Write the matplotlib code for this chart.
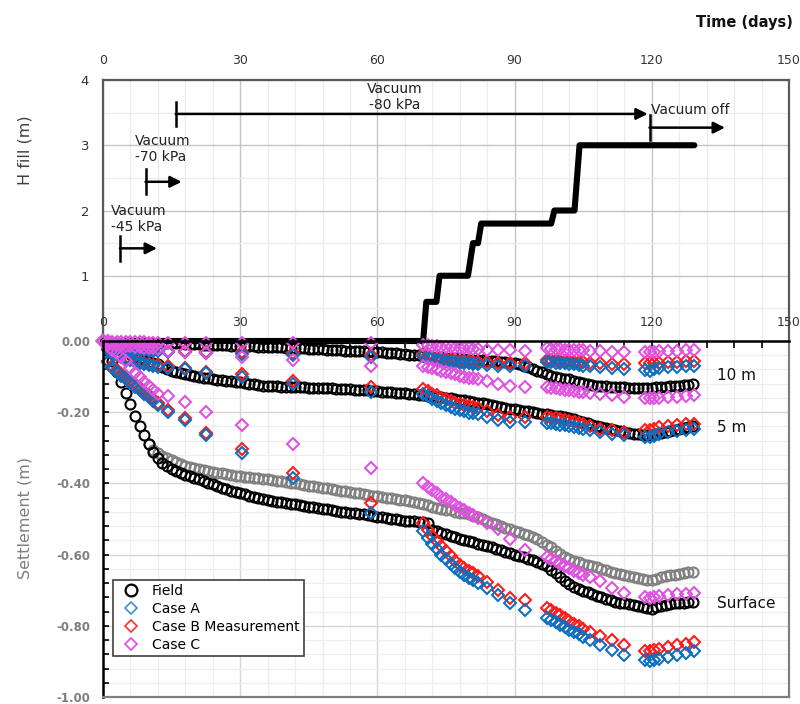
import matplotlib
matplotlib.use("Agg")
import matplotlib.pyplot as plt
from matplotlib.ticker import MultipleLocator, FixedLocator, FormatStrFormatter
from matplotlib.lines import Line2D

plt.rcParams["font.family"] = ["DejaVu Sans"]
plt.rcParams["axes.unicode_minus"] = False

# ---- fill height (top panel) ----
H_DAYS = [0, 70.0, 70.7, 72.9, 73.6, 79.8, 80.9, 82.0, 82.7, 98.0, 98.7, 103.1, 104.2, 129.3]
H_FILL = [0, 0, 0.6, 0.6, 1.0, 1.0, 1.5, 1.5, 1.8, 1.8, 2.0, 2.0, 3.0, 3.0]

# vacuum stages
VAC_LABELS = ["Vacuum\n-45 kPa", "Vacuum\n-70 kPa", "Vacuum\n-80 kPa", "Vacuum off"]
VAC_START = [3.7, 9.3, 15.9, 119.5]
VAC_END = [11.8, 17.2, 119.1, 136.0]
VAC_LEVEL = [1.42, 2.44, 3.48, 3.27]

# ---- field measurements (daily) ----
FIELD_DAYS = list(range(0, 130))
FIELD_SURF = [
    0, -0.025, -0.055, -0.087, -0.115, -0.145, -0.178, -0.21, -0.238, -0.265,
    -0.29, -0.312, -0.328, -0.342, -0.352, -0.36, -0.366, -0.371, -0.376, -0.38,
    -0.384, -0.388, -0.393, -0.398, -0.403, -0.408, -0.412, -0.416, -0.42, -0.424,
    -0.428, -0.431, -0.434, -0.437, -0.44, -0.443, -0.446, -0.449, -0.451, -0.453,
    -0.455, -0.457, -0.459, -0.461, -0.463, -0.465, -0.467, -0.469, -0.471, -0.473,
    -0.475, -0.477, -0.479, -0.48, -0.482, -0.484, -0.486, -0.487, -0.489, -0.491,
    -0.493, -0.495, -0.497, -0.499, -0.501, -0.503, -0.505, -0.506, -0.507, -0.508,
    -0.509, -0.512, -0.53, -0.535, -0.539, -0.543, -0.547, -0.551, -0.555, -0.559,
    -0.562, -0.566, -0.569, -0.573, -0.576, -0.58, -0.584, -0.588, -0.592, -0.596,
    -0.6, -0.604, -0.608, -0.612, -0.616, -0.621, -0.627, -0.633, -0.642, -0.652,
    -0.662, -0.673, -0.682, -0.69, -0.696, -0.701, -0.706, -0.71, -0.715, -0.72,
    -0.724, -0.728, -0.732, -0.735, -0.737, -0.74, -0.742, -0.745, -0.748, -0.751,
    -0.752, -0.748, -0.744, -0.741, -0.739, -0.737, -0.736, -0.735, -0.734, -0.733,
]
FIELD_5M = [
    0, -0.006, -0.012, -0.018, -0.024, -0.03, -0.036, -0.042, -0.048, -0.053,
    -0.058, -0.062, -0.066, -0.072, -0.078, -0.083, -0.087, -0.09, -0.093, -0.096,
    -0.099, -0.101, -0.103, -0.105, -0.107, -0.109, -0.11, -0.112, -0.113, -0.115,
    -0.116, -0.118, -0.12, -0.122, -0.124, -0.125, -0.126, -0.127, -0.127, -0.128,
    -0.128, -0.129, -0.129, -0.13, -0.13, -0.131, -0.131, -0.132, -0.132, -0.133,
    -0.133, -0.134, -0.134, -0.135, -0.136, -0.137, -0.137, -0.138, -0.139, -0.14,
    -0.141, -0.142, -0.143, -0.144, -0.145, -0.146, -0.147, -0.148, -0.15, -0.151,
    -0.153, -0.154, -0.155, -0.156, -0.157, -0.159, -0.161, -0.163, -0.165, -0.167,
    -0.169, -0.171, -0.173, -0.175, -0.177, -0.18, -0.183, -0.185, -0.188, -0.19,
    -0.192, -0.194, -0.196, -0.198, -0.2, -0.202, -0.204, -0.206, -0.208, -0.21,
    -0.212, -0.214, -0.217, -0.22, -0.224, -0.227, -0.231, -0.235, -0.239, -0.242,
    -0.245, -0.248, -0.251, -0.253, -0.256, -0.258, -0.26, -0.262, -0.264, -0.265,
    -0.265, -0.262, -0.259, -0.256, -0.253, -0.25, -0.247, -0.245, -0.242, -0.24,
]
FIELD_10M = [
    0, -0.001, -0.002, -0.002, -0.003, -0.003, -0.003, -0.004, -0.004, -0.004,
    -0.005, -0.005, -0.005, -0.006, -0.006, -0.006, -0.007, -0.007, -0.008, -0.008,
    -0.009, -0.009, -0.01, -0.01, -0.011, -0.011, -0.012, -0.012, -0.013, -0.013,
    -0.014, -0.014, -0.015, -0.015, -0.016, -0.016, -0.017, -0.017, -0.018, -0.018,
    -0.019, -0.02, -0.02, -0.021, -0.021, -0.022, -0.022, -0.023, -0.023, -0.024,
    -0.025, -0.025, -0.026, -0.027, -0.027, -0.028, -0.029, -0.029, -0.03, -0.031,
    -0.031, -0.032, -0.033, -0.034, -0.035, -0.036, -0.037, -0.038, -0.039, -0.04,
    -0.041, -0.042, -0.044, -0.045, -0.046, -0.047, -0.048, -0.049, -0.05, -0.051,
    -0.052, -0.053, -0.054, -0.054, -0.055, -0.056, -0.057, -0.058, -0.059, -0.061,
    -0.063, -0.066, -0.07, -0.074, -0.078, -0.083, -0.088, -0.094, -0.099, -0.102,
    -0.104, -0.106, -0.108, -0.112, -0.115, -0.118, -0.121, -0.123, -0.125, -0.126,
    -0.127, -0.128, -0.129, -0.13, -0.13, -0.131, -0.131, -0.131, -0.131, -0.131,
    -0.131, -0.13, -0.129, -0.128, -0.127, -0.126, -0.125, -0.124, -0.123, -0.122,
]
# second surface record (grey, not in legend)
GREY_DAYS = list(range(10, 130))
GREY_SURF = [
    -0.29, -0.305, -0.315, -0.322, -0.328, -0.334, -0.34, -0.345, -0.35, -0.354,
    -0.357, -0.36, -0.363, -0.366, -0.368, -0.37, -0.372, -0.374, -0.376, -0.378,
    -0.38, -0.381, -0.383, -0.384, -0.386, -0.387, -0.389, -0.39, -0.392, -0.394,
    -0.396, -0.398, -0.4, -0.402, -0.404, -0.406, -0.408, -0.41, -0.412, -0.414,
    -0.416, -0.418, -0.42, -0.422, -0.424, -0.426, -0.428, -0.43, -0.432, -0.434,
    -0.436, -0.438, -0.44, -0.442, -0.444, -0.446, -0.448, -0.45, -0.453, -0.456,
    -0.459, -0.462, -0.465, -0.468, -0.471, -0.474, -0.476, -0.479, -0.482, -0.484,
    -0.487, -0.491, -0.495, -0.5, -0.505, -0.51, -0.514, -0.519, -0.524, -0.529,
    -0.533, -0.537, -0.541, -0.545, -0.55, -0.557, -0.564, -0.572, -0.58, -0.589,
    -0.598, -0.606, -0.612, -0.617, -0.621, -0.625, -0.629, -0.632, -0.636, -0.64,
    -0.644, -0.648, -0.652, -0.655, -0.658, -0.661, -0.664, -0.666, -0.669, -0.671,
    -0.671, -0.668, -0.664, -0.661, -0.658, -0.656, -0.654, -0.652, -0.65, -0.648,
]

# ---- simulation output times ----
SIM_DAYS = [
    0, 1, 2, 3, 4, 5, 6, 7, 8, 9, 10, 11,
    12.1, 14.3, 17.9, 22.6, 30.3, 41.6, 58.7,
    70, 71, 72, 73, 74, 75, 76, 77, 78, 79, 80, 81, 82,
    84, 86.3, 88.9, 92.2,
    97, 98, 99, 100, 101, 102, 103, 104, 105,
    106.5, 108.6, 111.2, 114,
    118.5, 119.5, 120.5, 121.5,
    123.5, 125.5, 127.5, 129.2,
]
A_SURF = [
    0, -0.06, -0.075, -0.087, -0.098, -0.108, -0.118, -0.128, -0.138, -0.148, -0.158, -0.168,
    -0.18, -0.2, -0.222, -0.265, -0.315, -0.386, -0.482,
    -0.535, -0.553, -0.57, -0.585, -0.6, -0.613, -0.626, -0.637, -0.648, -0.657, -0.665, -0.672, -0.679,
    -0.695, -0.714, -0.736, -0.755,
    -0.778, -0.784, -0.79, -0.797, -0.804, -0.811, -0.818, -0.824, -0.831,
    -0.84, -0.853, -0.867, -0.881,
    -0.897, -0.9, -0.897, -0.894,
    -0.888, -0.882, -0.877, -0.872,
]
B_SURF = [
    0, -0.055, -0.069, -0.081, -0.092, -0.102, -0.112, -0.122, -0.132, -0.142, -0.152, -0.162,
    -0.175, -0.195, -0.217, -0.258, -0.302, -0.372, -0.455,
    -0.512, -0.53, -0.547, -0.562, -0.577, -0.591, -0.605, -0.617, -0.628, -0.638, -0.646, -0.653, -0.66,
    -0.678, -0.699, -0.722, -0.727,
    -0.75, -0.757, -0.764, -0.771, -0.778, -0.786, -0.794, -0.801, -0.808,
    -0.818, -0.83, -0.84, -0.853,
    -0.87, -0.872, -0.869, -0.866,
    -0.86, -0.855, -0.85, -0.846,
]
C_SURF = [
    0, -0.012, -0.025, -0.035, -0.045, -0.057, -0.075, -0.09, -0.102, -0.115, -0.127, -0.138,
    -0.148, -0.155, -0.171, -0.199, -0.237, -0.29, -0.358,
    -0.4, -0.41, -0.419, -0.428, -0.437, -0.445, -0.452, -0.46, -0.468, -0.476, -0.484, -0.49, -0.497,
    -0.51, -0.528, -0.556, -0.587,
    -0.606, -0.612, -0.618, -0.625, -0.632, -0.639, -0.645, -0.651, -0.656,
    -0.663, -0.675, -0.694, -0.707,
    -0.72, -0.722, -0.72, -0.717,
    -0.714, -0.712, -0.71, -0.708,
]
A_5M = [
    0, -0.025, -0.035, -0.04, -0.045, -0.05, -0.054, -0.058, -0.062, -0.065, -0.068, -0.07,
    -0.072, -0.075, -0.079, -0.091, -0.101, -0.12, -0.143,
    -0.148, -0.155, -0.162, -0.168, -0.174, -0.18, -0.185, -0.19, -0.195, -0.198, -0.201, -0.203, -0.205,
    -0.214, -0.223, -0.227, -0.228,
    -0.229, -0.231, -0.233, -0.235, -0.237, -0.239, -0.241, -0.243, -0.246,
    -0.251, -0.257, -0.26, -0.265,
    -0.269, -0.27, -0.266, -0.261,
    -0.256, -0.252, -0.249, -0.246,
]
B_5M = [
    0, -0.022, -0.032, -0.037, -0.042, -0.047, -0.051, -0.055, -0.059, -0.062, -0.065, -0.067,
    -0.068, -0.071, -0.075, -0.087, -0.092, -0.111, -0.129,
    -0.134, -0.141, -0.148, -0.153, -0.159, -0.164, -0.169, -0.173, -0.177, -0.18, -0.183, -0.185, -0.187,
    -0.197, -0.209, -0.213, -0.213,
    -0.213, -0.215, -0.217, -0.219, -0.222, -0.224, -0.227, -0.229, -0.232,
    -0.238, -0.246, -0.25, -0.255,
    -0.25, -0.249, -0.246, -0.242,
    -0.238, -0.235, -0.233, -0.232,
]
C_5M = [
    0, -0.005, -0.008, -0.01, -0.012, -0.013, -0.015, -0.016, -0.018, -0.019, -0.02, -0.021,
    -0.022, -0.027, -0.03, -0.033, -0.045, -0.054, -0.069,
    -0.069, -0.073, -0.076, -0.08, -0.083, -0.087, -0.091, -0.094, -0.097, -0.1, -0.103, -0.105, -0.107,
    -0.113, -0.12, -0.125, -0.129,
    -0.129, -0.131, -0.133, -0.135, -0.137, -0.139, -0.141, -0.142, -0.144,
    -0.146, -0.148, -0.153, -0.157,
    -0.16, -0.161, -0.16, -0.159,
    -0.157, -0.156, -0.154, -0.153,
]
A_10M = [
    0, -0.012, -0.016, -0.018, -0.02, -0.022, -0.023, -0.024, -0.025, -0.026, -0.027, -0.028,
    -0.028, -0.03, -0.031, -0.033, -0.036, -0.039, -0.045,
    -0.041, -0.045, -0.049, -0.052, -0.054, -0.056, -0.058, -0.06, -0.061, -0.062, -0.063, -0.064, -0.065,
    -0.067, -0.069, -0.07, -0.069,
    -0.059, -0.06, -0.061, -0.062, -0.063, -0.065, -0.066, -0.068, -0.069,
    -0.07, -0.073, -0.076, -0.078,
    -0.081, -0.083, -0.08, -0.077,
    -0.074, -0.072, -0.07, -0.069,
]
B_10M = [
    0, -0.01, -0.014, -0.016, -0.018, -0.019, -0.02, -0.021, -0.022, -0.023, -0.024, -0.025,
    -0.025, -0.027, -0.028, -0.03, -0.032, -0.035, -0.038,
    -0.037, -0.04, -0.044, -0.047, -0.049, -0.051, -0.053, -0.054, -0.055, -0.056, -0.057, -0.058, -0.059,
    -0.06, -0.061, -0.062, -0.062,
    -0.052, -0.053, -0.054, -0.055, -0.056, -0.057, -0.058, -0.059, -0.06,
    -0.061, -0.063, -0.064, -0.066,
    -0.062, -0.063, -0.062, -0.061,
    -0.059, -0.058, -0.056, -0.055,
]
C_10M = [
    0, -0.001, -0.002, -0.002, -0.003, -0.003, -0.003, -0.004, -0.004, -0.004, -0.005, -0.005,
    -0.005, -0.005, -0.005, -0.006, -0.006, -0.007, -0.007,
    -0.01, -0.012, -0.014, -0.015, -0.016, -0.017, -0.018, -0.019, -0.02, -0.021, -0.021, -0.022, -0.022,
    -0.024, -0.025, -0.026, -0.027,
    -0.021, -0.022, -0.022, -0.023, -0.024, -0.024, -0.025, -0.026, -0.026,
    -0.027, -0.029, -0.031, -0.032,
    -0.03, -0.031, -0.03, -0.029,
    -0.028, -0.027, -0.026, -0.025,
]

DEPTH_LABELS = ["10 m", "5 m", "Surface"]
DEPTH_LABEL_Y = [-0.097, -0.242, -0.738]

BLUE = "#0a6fc2"
RED = "#ff1a1a"
MAGENTA = "#e050e0"
GREY = "#808080"

W, H = 800, 704


def fx(x):
    return x / W


def fy(y):
    return 1 - y / H


fig = plt.figure(figsize=(8, 7.04), dpi=100)
ax_h = fig.add_axes([fx(103), fy(341), 686 / W, 261 / H])
ax_s = fig.add_axes([fx(103), fy(697), 686 / W, 356 / H])

# ---------- top panel: fill height ----------
ax_h.set_facecolor("none")
ax_h.set_xlim(0, 150)
ax_h.set_ylim(0, 4)
ax_h.xaxis.tick_top()
ax_h.xaxis.set_major_locator(MultipleLocator(30))
ax_h.xaxis.set_minor_locator(MultipleLocator(6))
ax_h.yaxis.set_major_locator(FixedLocator([1, 2, 3, 4]))
ax_h.yaxis.set_minor_locator(MultipleLocator(0.5))
ax_h.tick_params(which="both", length=0)
ax_h.tick_params(axis="x", pad=9, labelsize=9, labelcolor="#333333")
ax_h.tick_params(axis="y", pad=10, labelsize=9.5, labelcolor="#333333")
ax_h.grid(which="major", color="#c4c4c4", lw=1.0)
ax_h.grid(which="minor", color="#ececec", lw=0.9)
ax_h.set_axisbelow(True)
for side in ["top", "left", "right"]:
    ax_h.spines[side].set_color("#595959")
    ax_h.spines[side].set_linewidth(1.6)
ax_h.spines["bottom"].set_visible(False)

ax_h.plot(H_DAYS, H_FILL, color="black", lw=4.4, solid_capstyle="round",
          solid_joinstyle="round", clip_on=False, zorder=5)

for start, end, level in zip(VAC_START, VAC_END, VAC_LEVEL):
    ax_h.plot([start, start], [level - 0.19, level + 0.19], color="black", lw=1.8)
    ax_h.annotate("", xy=(end, level), xytext=(start, level),
                  arrowprops=dict(arrowstyle="-|>", color="black", lw=1.8,
                                  mutation_scale=17, shrinkA=0, shrinkB=0))

ax_h.text(1.7, 1.87, VAC_LABELS[0], ha="left", va="center", fontsize=10,
          linespacing=1.15, color="#222222")
ax_h.text(7.0, 2.94, VAC_LABELS[1], ha="left", va="center", fontsize=10,
          linespacing=1.15, color="#222222")
ax_h.text(63.8, 3.74, VAC_LABELS[2], ha="center", va="center", fontsize=10,
          linespacing=1.15, color="#222222")
ax_h.text(119.8, 3.54, VAC_LABELS[3], ha="left", va="center", fontsize=10,
          color="#222222")

# ---------- bottom panel: settlement ----------
ax_s.set_facecolor("none")
ax_s.set_xlim(0, 150)
ax_s.set_ylim(-1, 0)
ax_s.xaxis.tick_top()
ax_s.xaxis.set_major_locator(MultipleLocator(30))
ax_s.xaxis.set_minor_locator(MultipleLocator(6))
ax_s.yaxis.set_major_locator(MultipleLocator(0.2))
ax_s.yaxis.set_minor_locator(MultipleLocator(0.04))
ax_s.yaxis.set_major_formatter(FormatStrFormatter("%.2f"))
ax_s.tick_params(axis="x", which="both", direction="in", length=5, width=1.2,
                 color="black", pad=9, labelsize=9, labelcolor="#333333")
ax_s.tick_params(axis="y", which="both", direction="in", length=4, width=1.2,
                 color="black", pad=9, labelsize=8.5, labelcolor="#7f7f7f")
for lbl in ax_s.get_yticklabels():
    lbl.set_fontweight("bold")
ax_s.grid(which="major", color="#d6d6d6", lw=1.0)
ax_s.grid(which="minor", color="#eeeeee", lw=0.9)
ax_s.set_axisbelow(True)
ax_s.spines["left"].set_color("black")
ax_s.spines["left"].set_linewidth(1.8)
ax_s.spines["top"].set_color("black")
ax_s.spines["top"].set_linewidth(1.8)
for side in ["right", "bottom"]:
    ax_s.spines[side].set_color("#7f7f7f")
    ax_s.spines[side].set_linewidth(1.6)

circ = dict(ls="none", marker="o", ms=7.2, mfc="none", mew=1.5)
diam = dict(ls="none", marker="D", ms=6.5, mfc="none", mew=1.45, clip_on=False)

ax_s.plot(GREY_DAYS, GREY_SURF, mec=GREY, **circ)
for vals in (FIELD_10M, FIELD_5M, FIELD_SURF):
    ax_s.plot(FIELD_DAYS, vals, mec="black", **circ)
for vals in (B_10M, B_5M, B_SURF):
    ax_s.plot(SIM_DAYS, vals, mec=RED, **diam)
for vals in (A_10M, A_5M, A_SURF):
    ax_s.plot(SIM_DAYS, vals, mec=BLUE, **diam)
for vals in (C_10M, C_5M, C_SURF):
    ax_s.plot(SIM_DAYS, vals, mec=MAGENTA, **diam)

for lab, yv in zip(DEPTH_LABELS, DEPTH_LABEL_Y):
    ax_s.text(134.3, yv, lab, ha="left", va="center", fontsize=11, color="#111111")

handles = [
    Line2D([], [], ls="none", marker="o", ms=8.5, mfc="none", mec="black", mew=1.6),
    Line2D([], [], ls="none", marker="D", ms=6, mfc="none", mec="#3d8fd8", mew=1.2),
    Line2D([], [], ls="none", marker="D", ms=6, mfc="none", mec="#ff3030", mew=1.2),
    Line2D([], [], ls="none", marker="D", ms=6, mfc="none", mec="#f040f0", mew=1.2),
]
leg = ax_s.legend(handles, ["Field", "Case A", "Case B Measurement", "Case C"],
                  loc="upper left", bbox_to_anchor=(fx(113), fy(580)),
                  bbox_transform=fig.transFigure, borderaxespad=0, fontsize=10,
                  labelspacing=0.28, handlelength=2.0, handletextpad=0.5,
                  borderpad=0.3, fancybox=False, framealpha=1)
leg.get_frame().set_edgecolor("#404040")
leg.get_frame().set_linewidth(1.2)

# ---------- figure texts ----------
fig.text(fx(793), fy(22), "Time (days)", ha="right", va="center",
         fontsize=10.5, fontweight="bold", color="#111111")
fig.text(fx(25), fy(150), "H fill (m)", rotation=90, ha="center", va="center",
         fontsize=11.5, color="#404040")
fig.text(fx(25), fy(518), "Settlement (m)", rotation=90, ha="center", va="center",
         fontsize=11.5, color="#7f7f7f")

fig.savefig("out.png", dpi=100)
